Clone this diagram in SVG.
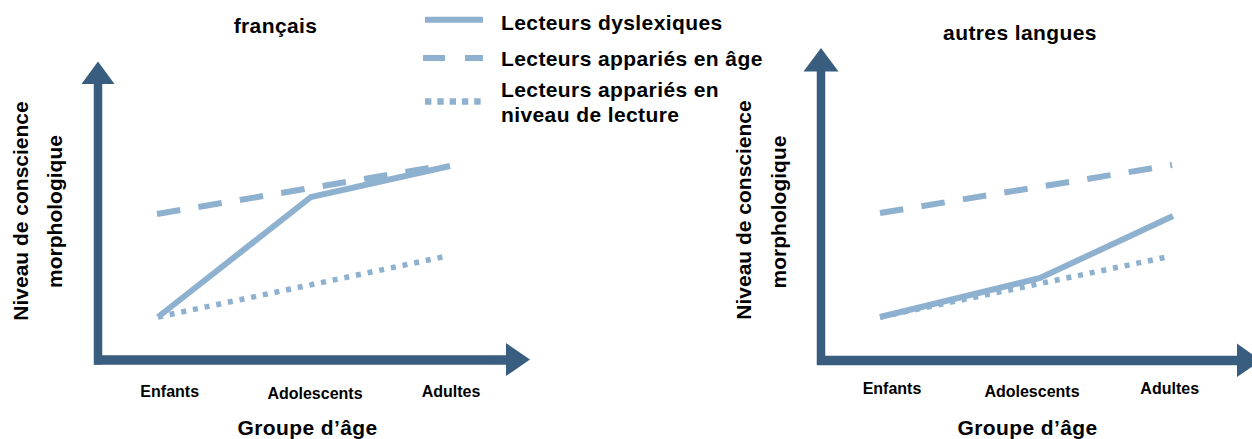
<svg xmlns="http://www.w3.org/2000/svg" width="1252" height="439" viewBox="0 0 1252 439">
<style>
text{font-family:"Liberation Sans",Arial,sans-serif;font-weight:bold;fill:#000}
.t21{font-size:21px;letter-spacing:0.4px}
.ylab{font-size:21px}
.tick{font-size:16px}
.axis{stroke:#385D7F;stroke-width:8.5;fill:none}
.head{fill:#385D7F}
.ser{stroke:#8FB1D0;fill:none;stroke-width:6;stroke-linecap:butt}
.dash{stroke-dasharray:23.6 18.4}
.dot{stroke-width:5.5;stroke-dasharray:5 6.9}
</style>
<rect width="1252" height="439" fill="#fff"/>

<g id="legend">
  <line class="ser" x1="425" y1="19.7" x2="483" y2="19.7"/>
  <line class="ser" x1="423" y1="58" x2="483" y2="58" style="stroke-dasharray:22 20"/>
  <line class="ser" x1="425" y1="101.5" x2="481" y2="101.5" style="stroke-width:6.5;stroke-dasharray:6.4 5.9"/>
  <text class="t21" x="501" y="30">Lecteurs dyslexiques</text>
  <text class="t21" x="501" y="65.5">Lecteurs appariés en âge</text>
  <text class="t21" x="501" y="96.5">Lecteurs appariés en</text>
  <text class="t21" x="501" y="121.5">niveau de lecture</text>
</g>

<g id="chart-francais">
  <text class="t21" x="275.5" y="33" text-anchor="middle">français</text>
  <g id="axes-left">
    <line class="axis" x1="98" y1="82" x2="98" y2="364.5"/>
    <line class="axis" x1="94" y1="360" x2="507" y2="360" style="stroke-width:9.5"/>
    <polygon class="head" points="81.5,84 98,61.5 114.5,84"/>
    <polygon class="head" points="506,343 530,359.5 506,376"/>
  </g>
  <text class="ylab" transform="translate(27.5,211) rotate(-90)" text-anchor="middle">Niveau de conscience</text>
  <text class="ylab" transform="translate(62,211.5) rotate(-90)" text-anchor="middle">morphologique</text>
  <text class="tick" x="169.7" y="396.7" text-anchor="middle">Enfants</text>
  <text class="tick" x="315" y="399" text-anchor="middle">Adolescents</text>
  <text class="tick" x="451" y="396.7" text-anchor="middle">Adultes</text>
  <text class="t21" x="307.5" y="435" text-anchor="middle">Groupe d’âge</text>
  <g id="series-left">
    <polyline class="ser" points="158,317 311,197 450,166"/>
    <line class="ser dash" x1="157" y1="214" x2="429" y2="168"/>
    <line class="ser dot" x1="158" y1="317" x2="445" y2="256.5"/>
  </g>
</g>

<g id="chart-autres">
  <text class="t21" x="1020" y="40" text-anchor="middle">autres langues</text>
  <g id="axes-right">
    <line class="axis" x1="821" y1="69" x2="821" y2="365"/>
    <line class="axis" x1="817" y1="360.5" x2="1238" y2="360.5" style="stroke-width:9.5"/>
    <polygon class="head" points="803.5,71.5 821,48 838.5,71.5"/>
    <polygon class="head" points="1237,343.5 1261,360.5 1237,377"/>
  </g>
  <text class="ylab" transform="translate(750.5,210) rotate(-90)" text-anchor="middle">Niveau de conscience</text>
  <text class="ylab" transform="translate(786,212) rotate(-90)" text-anchor="middle">morphologique</text>
  <text class="tick" x="892" y="394.3" text-anchor="middle">Enfants</text>
  <text class="tick" x="1032" y="396.7" text-anchor="middle">Adolescents</text>
  <text class="tick" x="1169.7" y="394.3" text-anchor="middle">Adultes</text>
  <text class="t21" x="1027.5" y="435" text-anchor="middle">Groupe d’âge</text>
  <g id="series-right">
    <polyline class="ser" points="880,317 1040,278 1173,216"/>
    <line class="ser dash" x1="880" y1="213" x2="1172" y2="165"/>
    <line class="ser dot" x1="880" y1="317" x2="1167" y2="257"/>
  </g>
</g>
</svg>
